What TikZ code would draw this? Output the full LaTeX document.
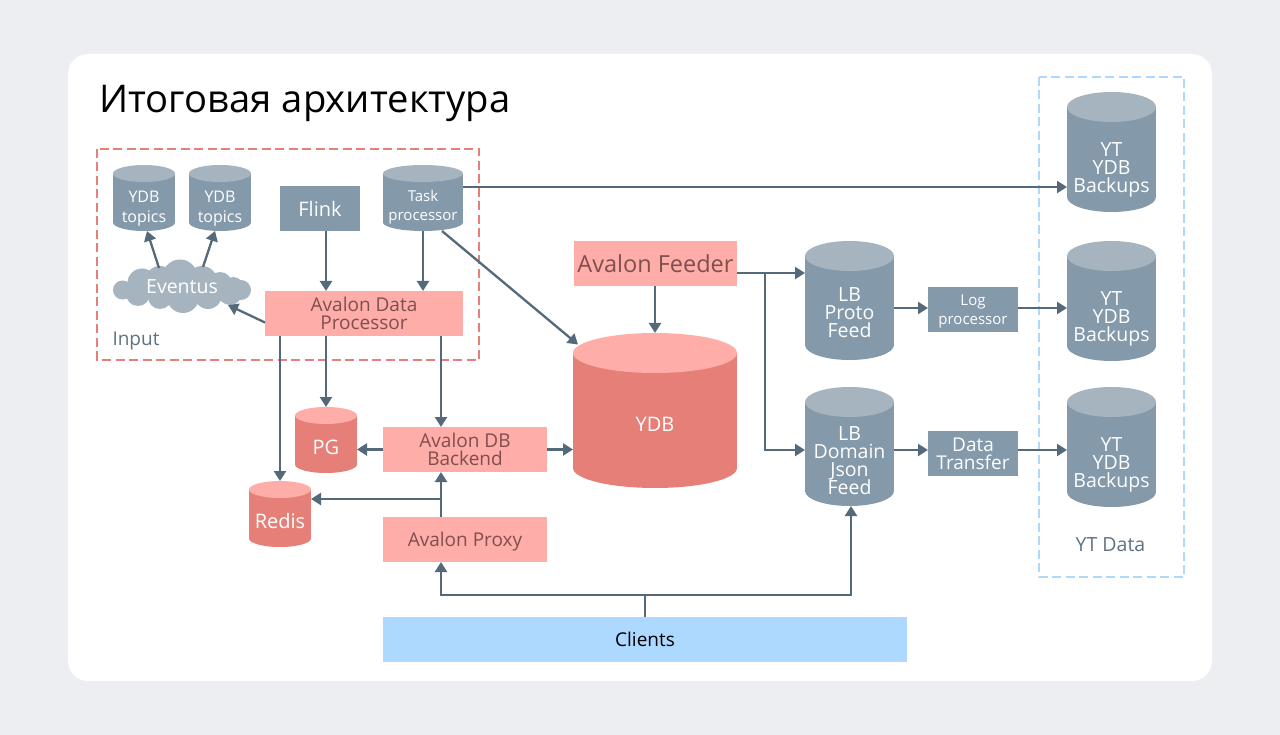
\documentclass[tikz,border=0pt]{standalone}
\usepackage{fontspec}
\setmainfont{Open Sans}
\usetikzlibrary{arrows.meta}
\definecolor{bgc}{HTML}{ECEEF2}
\definecolor{slatebody}{HTML}{8499AA}
\definecolor{slatetop}{HTML}{A5B4BF}
\definecolor{pinkc}{HTML}{FFADA8}
\definecolor{redbody}{HTML}{E57F78}
\definecolor{redtop}{HTML}{FFADA8}
\definecolor{bluec}{HTML}{ADD8FF}
\definecolor{arrc}{HTML}{546A7B}
\definecolor{pinktext}{HTML}{7F4F4F}
\definecolor{inputc}{HTML}{5F7282}
\newcommand{\fsz}[1]{\fontsize{#1}{#1}\selectfont}
\tikzset{
  arr/.style={draw=arrc,line width=2.3pt,-{Triangle[length=10pt,width=12pt]}},
  plainline/.style={draw=arrc,line width=2.3pt},
  box/.style={inner sep=0pt,outer sep=0pt,align=center,text depth=0pt},
  slatebox/.style={box,fill=slatebody,text=white},
  pinkbox/.style={box,fill=pinkc,text=pinktext},
  dashgroup/.style={line width=2.2pt,dash pattern=on 9pt off 4.5pt},
  celltext/.style={inner sep=0pt,align=center,text=white,text depth=0pt},
  anchorbox/.style={inner sep=0pt,outer sep=0pt},
}
% name, left, top, width, height, ry, scheme, label y, font; the label text follows as {text};
\newcommand{\cyl}[9]{%
  \fill[#7body] (#2,{#3+#6}) rectangle ({#2+#4},{#3+#5-#6});
  \fill[#7body] ({#2+#4/2},{#3+#5-#6}) ellipse [x radius={#4/2*1pt},y radius={#6*1pt}];
  \fill[#7top] ({#2+#4/2},{#3+#6}) ellipse [x radius={#4/2*1pt},y radius={#6*1pt}];
  \node[anchorbox,minimum width=#4pt,minimum height=#5pt] (#1) at ({#2+#4/2},{#3+#5/2}) {};
  \node[celltext,font=#9] (#1-label) at ({#2+#4/2},#8)
}
\newcommand{\rbox}[8]{% style,name,left,top,w,h,font,text
  \node[#1,minimum width=#5pt,minimum height=#6pt,font=#7] (#2) at ({#3+#5/2},{#4+#6/2}) {#8};
}
\lineskiplimit=-20pt
\begin{document}
\begin{tikzpicture}[x=1pt,y=-1pt]
\useasboundingbox (0,0) rectangle (1280,735);
\fill[bgc] (0,0) rectangle (1280,735);
\fill[white,rounded corners=20pt] (68,54) rectangle (1212,681);
\node[inner sep=0pt,anchor=west,text depth=0pt,font=\fsz{38.2}] (title) at (99,99) {Итоговая архитектура};

\draw[redbody,dashgroup] (97,149) rectangle (479,360);
\draw[bluec,dashgroup] (1039,77) rectangle (1184,577);

% cloud
\foreach \cxx/\cyy/\crr in {122.5/290/9.5,142/283/14.5,160/281/15,180/277/17.5,202/281/15,220/284/12,233/288/11,241/290/10,138/294/12,160/297/12,183/297/16,208/295/14,230/293/12}
  \fill[slatetop] (\cxx,\cyy) circle [radius=\crr pt];
\node[celltext,font=\fsz{19.5},minimum width=138pt,minimum height=54pt] (eventus) at (182,286.5) {Eventus};

\cyl{topa}{113}{165}{62}{66}{8.5}{slate}{207}{\fontsize{16}{20}\selectfont}{YDB\\topics};
\cyl{topb}{189}{165}{62}{66}{8.5}{slate}{207}{\fontsize{16}{20}\selectfont}{YDB\\topics};
\cyl{task}{383}{165}{80}{66}{8.5}{slate}{205}{\fontsize{15}{19}\selectfont}{Task\\processor};
\rbox{slatebox}{flink}{280}{186}{80}{45}{\fsz{20}}{Flink}
\rbox{pinkbox}{adp}{265}{291}{198}{45}{\fontsize{19}{18}\selectfont}{Avalon Data\\Processor}
\node[inner sep=0pt,text=inputc,text depth=0pt,font=\fsz{19}] (input) at (136,339) {Input};

\rbox{pinkbox}{feeder}{574}{241}{163}{45}{\fsz{23.5}}{Avalon Feeder}
\cyl{ydb}{573}{333}{164}{155}{20}{red}{424}{\fsz{20}}{YDB};
\cyl{pg}{295}{407}{62}{66}{8.5}{red}{447}{\fsz{20}}{PG};
\cyl{redis}{249}{481}{62}{66}{8.5}{red}{521}{\fsz{20}}{Redis};
\rbox{pinkbox}{backend}{383}{427}{164}{45}{\fontsize{19}{18}\selectfont}{Avalon DB\\Backend}
\rbox{pinkbox}{proxy}{383}{517}{164}{45}{\fsz{19}}{Avalon Proxy}
\node[box,fill=bluec,text=black,minimum width=524pt,minimum height=45pt,font=\fsz{19}] (clients) at (645,639.5) {Clients};

\cyl{proto}{805}{241}{89}{119}{15}{slate}{312.5}{\fontsize{19.5}{18}\selectfont}{LB\\Proto\\Feed};
\cyl{domain}{805}{387}{89}{119}{15}{slate}{460.5}{\fontsize{19.5}{18}\selectfont}{LB\\Domain\\Json\\Feed};
\rbox{slatebox}{logp}{928}{287}{90}{45}{\fontsize{15}{19}\selectfont}{Log\\processor}
\rbox{slatebox}{transfer}{928}{431}{90}{45}{\fontsize{19}{18}\selectfont}{Data\\Transfer}
\cyl{yta}{1067}{92}{89}{120}{15}{slate}{168}{\fontsize{19.5}{18}\selectfont}{YT\\YDB\\Backups};
\cyl{ytb}{1067}{241}{89}{120}{15}{slate}{317}{\fontsize{19.5}{18}\selectfont}{YT\\YDB\\Backups};
\cyl{ytc}{1067}{387}{89}{120}{15}{slate}{463}{\fontsize{19.5}{18}\selectfont}{YT\\YDB\\Backups};
\node[inner sep=0pt,text=inputc,text depth=0pt,font=\fsz{19.5}] (ytdata) at (1110.5,545) {YT Data};

% connectors
\draw[arr] ([yshift=11pt]task.east) -- ([yshift=-35pt]yta.west);
\draw[arr] (task.south) -- ([xshift=59pt]adp.north);
\draw[arr] ([xshift=6pt]flink.south) -- ([xshift=-38pt]adp.north);
\draw[arr] ([xshift=19pt]task.south) -- ([xshift=-77pt,yshift=66pt]ydb.center);
\draw[arr] ([yshift=-9pt]adp.west) -- ([xshift=46pt,yshift=-18.5pt]eventus.center);
\draw[arr] ([xshift=-23pt,yshift=18.5pt]eventus.center) -- ([xshift=3pt]topa.south);
\draw[arr] ([xshift=21pt,yshift=19.5pt]eventus.center) -- ([xshift=-5pt]topb.south);
\draw[arr] ([xshift=-84pt]adp.south) -- (redis.north);
\draw[arr] ([xshift=-38pt]adp.south) -- (pg.north);
\draw[arr] ([xshift=77pt]adp.south) -- ([xshift=-24pt]backend.north);
\draw[arr] (backend.west) -- ([yshift=-9.5pt]pg.east);
\draw[arr] (backend.east) -- ([yshift=-39pt]ydb.west);
\draw[arr] ([xshift=-24pt]proxy.north) -- ([xshift=-24pt]backend.south);
\coordinate (redisjoin) at ([xshift=-24pt,yshift=18pt]proxy.north);
\draw[arr] (redisjoin) -- (redisjoin -| redis.east);
\coordinate (clientjoin) at ([yshift=22pt]clients.north);
\draw[plainline] (clients.north) -- (clientjoin);
\draw[arr] (clientjoin) -| ([xshift=-24pt]proxy.south);
\draw[arr] (clientjoin) -| ([xshift=1.5pt]domain.south);
\draw[arr] ([xshift=-.5pt]feeder.south) -- (ydb.north);
\draw[arr] ([yshift=-9.5pt]feeder.east) -- ([yshift=27.5pt]proto.west);
\coordinate (feedjoin) at ([xshift=28pt,yshift=-9.5pt]feeder.east);
\draw[arr] (feedjoin) |- ([yshift=-3.5pt]domain.west);
\draw[arr] ([yshift=-7.5pt]proto.east) -- ([yshift=1.5pt]logp.west);
\draw[arr] ([yshift=1.5pt]logp.east) -- ([yshift=-7pt]ytb.west);
\draw[arr] ([yshift=-3.5pt]domain.east) -- ([yshift=3.5pt]transfer.west);
\draw[arr] ([yshift=3.5pt]transfer.east) -- ([yshift=-3pt]ytc.west);
\end{tikzpicture}
\end{document}
